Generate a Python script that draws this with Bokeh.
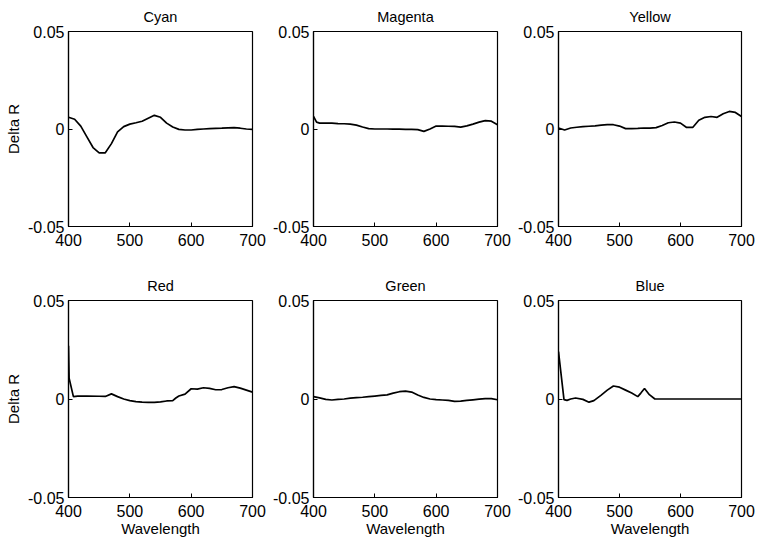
from bokeh.plotting import figure
from bokeh.layouts import column, row
from bokeh.models import Range1d, FixedTicker
from bokeh.embed import file_html
from bokeh.resources import INLINE

# ---------------- data ----------------
titles = ["Cyan", "Magenta", "Yellow", "Red", "Green", "Blue"]
x_ticks = [400, 500, 600, 700]
y_ticks = [-0.05, 0, 0.05]
y_tick_labels = ["-0.05", "0", "0.05"]
x_label = "Wavelength"
y_label = "Delta R"

wl = [400, 410, 420, 430, 440, 450, 460, 470, 480, 490, 500, 510, 520, 530, 540, 550,
      560, 570, 580, 590, 600, 610, 620, 630, 640, 650, 660, 670, 680, 690, 700]

cyan = [0.006, 0.005, 0.0015, -0.004, -0.0095, -0.0122, -0.0122, -0.0075, -0.0015, 0.0012,
        0.0025, 0.0032, 0.004, 0.0055, 0.007, 0.006, 0.003, 0.001, -0.0002, -0.0005,
        -0.0005, -0.0002, 0.0, 0.0002, 0.0003, 0.0004, 0.0006, 0.0007, 0.0004, 0.0, -0.0002]

magenta_wl = [400, 405] + wl[1:]
magenta = [0.0065, 0.0035, 0.003, 0.003, 0.003, 0.0028, 0.0027, 0.0025, 0.002, 0.001, 0.0002,
           0.0, 0.0, 0.0, -0.0001, -0.0001, -0.0002, -0.0002, -0.0003, -0.0012, 0.0,
           0.0015, 0.0015, 0.0014, 0.0013, 0.001, 0.0016, 0.0025, 0.0035, 0.0043, 0.004, 0.0022]

yellow = [0.0005, -0.0005, 0.0005, 0.0009, 0.0012, 0.0014, 0.0016, 0.002, 0.0022, 0.0022,
          0.0015, 0.0002, 0.0002, 0.0003, 0.0005, 0.0004, 0.0007, 0.0018, 0.0032, 0.0036,
          0.003, 0.0008, 0.0008, 0.0045, 0.006, 0.0064, 0.006, 0.0078, 0.009, 0.0085, 0.0064]

red_wl = [400, 401, 408, 415, 430, 450, 460, 470, 480, 490, 500, 510, 520, 530, 540, 550,
          560, 570, 575, 580, 590, 600, 610, 620, 630, 640, 650, 660, 670, 680, 690, 700]
red = [0.027, 0.0105, 0.0012, 0.0015, 0.0015, 0.0014, 0.0013, 0.0026, 0.0012, 0.0, -0.0008,
       -0.0013, -0.0016, -0.0017, -0.0017, -0.0015, -0.001, -0.0008, 0.0005, 0.0015, 0.0025,
       0.0052, 0.005, 0.0057, 0.0054, 0.0047, 0.0048, 0.0057, 0.0063, 0.0055, 0.0045, 0.0035]

green = [0.0012, 0.0006, -0.0002, -0.0005, -0.0002, 0.0, 0.0004, 0.0007, 0.0009, 0.0012,
         0.0015, 0.0018, 0.0021, 0.003, 0.0037, 0.004, 0.0035, 0.002, 0.0008, 0.0,
         -0.0003, -0.0005, -0.0007, -0.0012, -0.0011, -0.0007, -0.0004, -0.0001, 0.0002, 0.0002, -0.0004]

blue_wl = [400, 409, 414, 420, 428, 440, 450, 458, 470, 480, 490, 500, 510, 520, 530, 535,
           541, 549, 558, 600, 650, 700]
blue = [0.024, -0.0003, -0.0007, 0.0, 0.0005, -0.0002, -0.0016, -0.0008, 0.002, 0.0045, 0.0066,
        0.006, 0.0045, 0.003, 0.0012, 0.003, 0.0053, 0.0022, 0.0, 0.0, 0.0, 0.0]

series_x = [wl, magenta_wl, wl, red_wl, wl, blue_wl]
series_y = [cyan, magenta, yellow, red, green, blue]

# ---------------- layout ----------------
FONT = "Liberation Sans"
cols = [(270, 68, 18), (245, 43, 18), (241, 42, 15)]   # width, border left, border right
rows = [(259, 30, 33), (282, 41, 44)]                   # height, border top, border bottom


def make_panel(r, c, title, xs, ys):
    w, bl, br = cols[c]
    h, bt, bb = rows[r]
    p = figure(width=w, height=h, x_range=Range1d(x_ticks[0], x_ticks[-1]),
               y_range=Range1d(y_ticks[0], y_ticks[-1]),
               output_backend="svg", toolbar_location=None,
               min_border_left=bl, min_border_right=br, min_border_top=bt, min_border_bottom=bb,
               title=title)
    p.title.align = "center"
    p.title.text_font = FONT
    p.title.text_font_size = "14.5px"
    p.title.text_font_style = "normal"
    p.title.text_color = "black"
    p.title.standoff = 13
    p.grid.visible = False
    p.outline_line_color = "black"
    p.outline_line_alpha = 1
    p.outline_line_width = 1.2
    p.xaxis.ticker = FixedTicker(ticks=x_ticks)
    p.yaxis.ticker = FixedTicker(ticks=y_ticks)
    p.yaxis.major_label_overrides = {v: l for v, l in zip(y_ticks, y_tick_labels)}
    for ax in (p.xaxis[0], p.yaxis[0]):
        ax.axis_line_color = "black"
        ax.axis_line_width = 1.2
        ax.major_tick_in = 4
        ax.major_tick_out = 0
        ax.major_tick_line_color = "black"
        ax.minor_tick_line_color = None
        ax.major_label_text_font = FONT
        ax.major_label_text_font_size = "16px"
        ax.major_label_text_color = "black"
        ax.axis_label_text_font = FONT
        ax.axis_label_text_font_size = "15px"
        ax.axis_label_text_font_style = "normal"
        ax.axis_label_text_color = "black"
    p.xaxis.major_label_standoff = 7
    p.yaxis.major_label_standoff = 4
    if c == 0:
        p.yaxis.axis_label = y_label
        p.yaxis.axis_label_standoff = 3
    if r == 1:
        p.xaxis.axis_label = x_label
        p.xaxis.axis_label_standoff = 0
    p.line(xs, ys, line_color="black", line_width=1.7)
    return p


panels = []
for i in range(6):
    r, c = divmod(i, 3)
    panels.append(make_panel(r, c, titles[i], series_x[i], series_y[i]))

layout = column(row(*panels[:3]), row(*panels[3:]))
open("out.html", "w").write(file_html(layout, INLINE))
